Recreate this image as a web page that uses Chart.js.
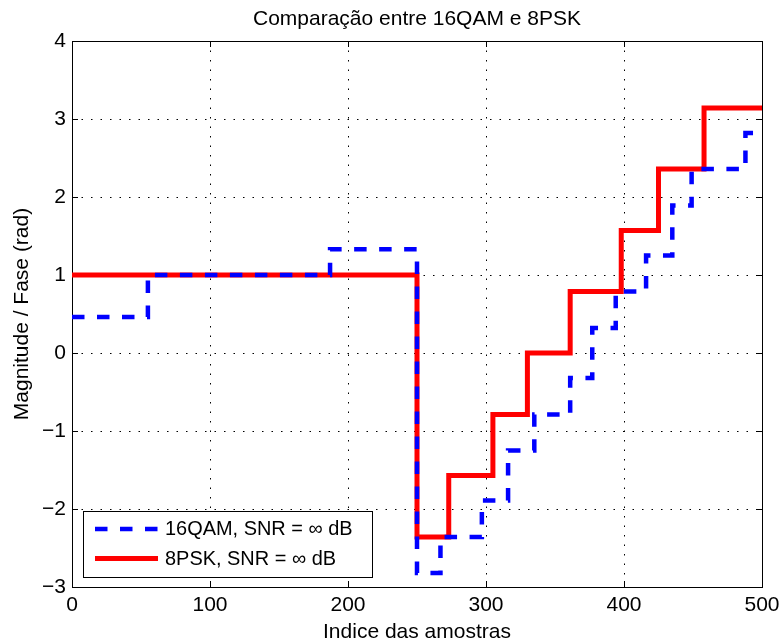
<!DOCTYPE html>
<html>
<head>
<meta charset="utf-8">
<script src="https://cdn.jsdelivr.net/npm/chart.js@4.4.1/dist/chart.umd.min.js"></script>
<style>
  html, body { margin: 0; padding: 0; background: #fff; }
  #caixa { width: 782px; height: 644px; }
</style>
</head>
<body>
<div id="caixa"><canvas id="graficoFase"></canvas></div>
<script>
// Fase por amostra: cada patamar começa no índice indicado
const qamInicio = [0, 55, 187, 250, 267, 297, 316, 335, 361, 377, 394, 416, 435, 449, 488, 500];
const qamFase = [0.46, 1, 1.33, -2.82, -2.36, -1.89, -1.25, -0.79, -0.32, 0.32, 0.79, 1.25, 1.89, 2.36, 2.82, 2.82];
const pskInicio = [0, 250, 273, 305, 330, 361, 398, 425, 458, 500];
const pskFase = [1, -2.36, -1.57, -0.79, 0, 0.79, 1.57, 2.36, 3.14, 3.14];

const ticksX = [0, 100, 200, 300, 400, 500];
const ticksY = [-3, -2, -1, 0, 1, 2, 3, 4];

const fonte = "'Liberation Sans', Arial, Helvetica, sans-serif";
const tamanho = 21;

const pontos = (xs, ys) => xs.map((x, i) => ({ x: x, y: ys[i] }));
const rotulo = v => (v < 0 ? '\u2212' + Math.abs(v) : String(v));

// Caixa dos eixos, marcas internas e legenda no canto inferior esquerdo
const moldura = {
  id: 'moldura',
  beforeDatasetsDraw(chart) {
    const { ctx, chartArea: a, scales } = chart;
    ctx.save();
    ctx.strokeStyle = '#000';
    ctx.lineWidth = 1;
    ctx.beginPath();
    ticksX.forEach(v => {
      const x = Math.round(scales.x.getPixelForValue(v)) + 0.5;
      ctx.moveTo(x, a.bottom); ctx.lineTo(x, a.bottom - 6);
      ctx.moveTo(x, a.top); ctx.lineTo(x, a.top + 6);
    });
    ticksY.forEach(v => {
      const y = Math.round(scales.y.getPixelForValue(v)) + 0.5;
      ctx.moveTo(a.left, y); ctx.lineTo(a.left + 6, y);
      ctx.moveTo(a.right, y); ctx.lineTo(a.right - 6, y);
    });
    ctx.stroke();
    ctx.strokeRect(Math.round(a.left) + 0.5, Math.round(a.top) + 0.5,
      Math.round(a.right - a.left), Math.round(a.bottom - a.top));
    ctx.restore();
  },
  afterDatasetsDraw(chart) {
    const { ctx, chartArea: a } = chart;
    const bx = a.left + 11, by = a.bottom - 76, bw = 289, bh = 66;
    ctx.save();
    ctx.fillStyle = '#fff';
    ctx.fillRect(bx, by, bw, bh);
    ctx.strokeStyle = '#000';
    ctx.lineWidth = 1;
    ctx.strokeRect(Math.round(bx) + 0.5, Math.round(by) + 0.5, bw, bh);
    ctx.font = tamanho * 0.95 + 'px ' + fonte;
    ctx.textBaseline = 'middle';
    ctx.textAlign = 'left';
    chart.data.datasets.forEach((ds, i) => {
      const y = by + 18 + i * 29.5;
      ctx.beginPath();
      ctx.strokeStyle = ds.borderColor;
      ctx.lineWidth = ds.borderWidth;
      ctx.setLineDash(ds.borderDash || []);
      ctx.moveTo(bx + 12, y);
      ctx.lineTo(bx + 75, y);
      ctx.stroke();
      ctx.setLineDash([]);
      ctx.fillStyle = '#000';
      ctx.fillText(ds.label, bx + 82, y + 1);
    });
    ctx.restore();
  }
};

new Chart(document.getElementById('graficoFase'), {
  type: 'line',
  data: {
    datasets: [
      {
        label: '16QAM, SNR = \u221e dB',
        data: pontos(qamInicio, qamFase),
        borderColor: '#0000ff',
        borderWidth: 4.5,
        borderDash: [12.5, 12.5],
        stepped: 'before',
        pointRadius: 0,
        fill: false
      },
      {
        label: '8PSK, SNR = \u221e dB',
        data: pontos(pskInicio, pskFase),
        borderColor: '#ff0000',
        borderWidth: 5,
        stepped: 'before',
        pointRadius: 0,
        fill: false
      }
    ]
  },
  options: {
    responsive: true,
    maintainAspectRatio: false,
    animation: false,
    layout: { padding: { left: 0, right: 20, top: 0, bottom: 0 } },
    plugins: {
      legend: { display: false },
      tooltip: { enabled: false },
      title: {
        display: true,
        fullSize: false,
        text: 'Comparação entre 16QAM e 8PSK',
        color: '#000',
        font: { family: fonte, size: tamanho, weight: 'normal' },
        padding: { top: 7, bottom: 8.8 }
      }
    },
    scales: {
      x: {
        type: 'linear',
        min: 0,
        max: 500,
        afterFit: s => { s.height = 57; s.paddingLeft = 0; s.paddingRight = 0; },
        afterBuildTicks: s => { s.ticks = ticksX.map(v => ({ value: v })); },
        ticks: { color: '#000', padding: 6, font: { family: fonte, size: tamanho }, callback: rotulo, maxRotation: 0 },
        grid: { color: '#000', lineWidth: 1, drawTicks: false },
        border: { display: false, dash: [1.5, 8] },
        title: { display: true, text: 'Indice das amostras', color: '#000', font: { family: fonte, size: tamanho }, padding: { top: 0, bottom: -1 } }
      },
      y: {
        min: -3,
        max: 4,
        afterFit: s => { s.width = 72; s.paddingTop = 0; s.paddingBottom = 0; },
        afterBuildTicks: s => { s.ticks = ticksY.map(v => ({ value: v })); },
        ticks: { color: '#000', padding: 6, font: { family: fonte, size: tamanho }, callback: rotulo },
        grid: { color: '#000', lineWidth: 1, drawTicks: false },
        border: { display: false, dash: [1.5, 8] },
        title: { display: true, text: 'Magnitude / Fase (rad)', color: '#000', font: { family: fonte, size: tamanho }, padding: { top: 10, bottom: 0 } }
      }
    }
  },
  plugins: [moldura]
});
</script>
</body>
</html>
